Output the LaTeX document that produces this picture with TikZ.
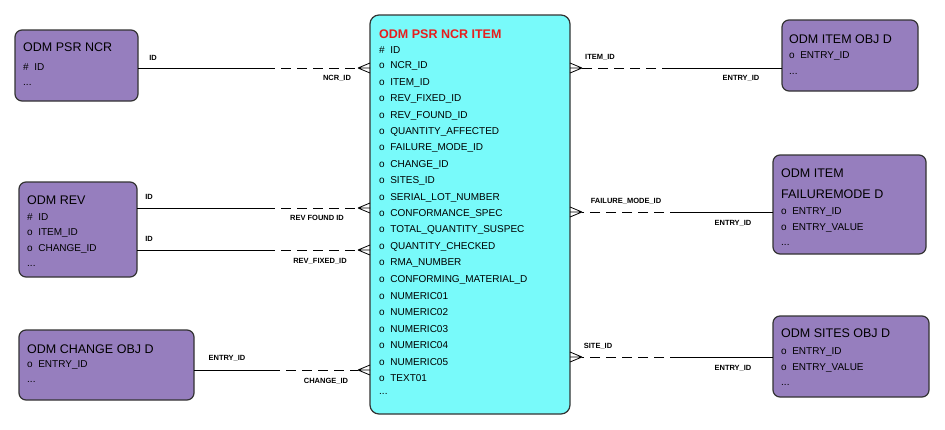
\documentclass[tikz,border=0pt]{standalone}
\usepackage{fontspec}
\setmainfont{Liberation Sans}
\begin{document}
\begin{tikzpicture}[x=1pt,y=-1pt,
  ent/.style={draw=black!80,line width=1.2pt,rounded corners=7pt,fill={rgb,255:red,150;green,126;blue,190}},
  ctr/.style={draw=black!80,line width=1.2pt,rounded corners=9pt,fill={rgb,255:red,120;green,250;blue,250}},
  ttl/.style={font=\fontsize{12.5}{14}\selectfont,anchor=west,inner sep=0},
  row/.style={font=\fontsize{10}{12}\selectfont,anchor=west,inner sep=0},
  lab/.style={font=\fontsize{7.5}{9}\selectfont\bfseries,inner sep=0},
  con/.style={line width=0.8pt},
  dsh/.style={line width=0.8pt,dash pattern=on 10pt off 6pt}]
\useasboundingbox (0,0) rectangle (945,429);
% boxes
\draw[ent] (15,30) rectangle (138,101) coordinate (ncr);
\draw[ent] (19,182) rectangle (137,277) coordinate (rev);
\draw[ent] (19,330) rectangle (194,400) coordinate (chg);
\draw[ctr] (370,15) rectangle (570,414) coordinate (itm);
\draw[ent] (782,20) rectangle (918,91) coordinate (iod);
\draw[ent] (773,155) rectangle (926,254) coordinate (fmd);
\draw[ent] (773,316) rectangle (929,397) coordinate (sod);
% texts
\node[ttl] (t1) at (23,47) {ODM PSR NCR};
\node[row] (t1a) at (23,67) {\#\ \ ID};
\node[row] (t1b) at (23,85) {...};
\node[ttl] (t2) at (27,200) {ODM REV};
\node[row] (t2a) at (27,217) {\#\ \ ID};
\node[row] (t2b) at (27,233) {o\ \ ITEM\_ID};
\node[row] (t2c) at (27,249) {o\ \ CHANGE\_ID};
\node[row] (t2d) at (27,266) {...};
\node[ttl] (t3) at (27,349) {ODM CHANGE OBJ D};
\node[row] (t3a) at (27,365) {o\ \ ENTRY\_ID};
\node[row] (t3b) at (27,382) {...};
\node[ttl] (t4) at (789,39) {ODM ITEM OBJ D};
\node[row] (t4a) at (789,56) {o\ \ ENTRY\_ID};
\node[row] (t4b) at (789,74) {...};
\node[ttl] (t5) at (781,173) {ODM ITEM};
\node[ttl] (t5x) at (781,194) {FAILUREMODE D};
\node[row] (t5a) at (781,212) {o\ \ ENTRY\_ID};
\node[row] (t5b) at (781,228) {o\ \ ENTRY\_VALUE};
\node[row] (t5c) at (781,245) {...};
\node[ttl] (t6) at (781,333) {ODM SITES OBJ D};
\node[row] (t6a) at (781,352) {o\ \ ENTRY\_ID};
\node[row] (t6b) at (781,368) {o\ \ ENTRY\_VALUE};
\node[row] (t6c) at (781,385) {...};
\node[ttl,text={rgb,255:red,230;green,30;blue,30},font=\fontsize{12.5}{14}\selectfont\bfseries] (tc) at (379,34) {ODM PSR NCR ITEM};
\foreach \t [count=\i from 0] in {{\#\ \ ID},{o\ \ NCR\_ID},{o\ \ ITEM\_ID},{o\ \ REV\_FIXED\_ID},{o\ \ REV\_FOUND\_ID},{o\ \ QUANTITY\_AFFECTED},{o\ \ FAILURE\_MODE\_ID},{o\ \ CHANGE\_ID},{o\ \ SITES\_ID},{o\ \ SERIAL\_LOT\_NUMBER},{o\ \ CONFORMANCE\_SPEC},{o\ \ TOTAL\_QUANTITY\_SUSPEC},{o\ \ QUANTITY\_CHECKED},{o\ \ RMA\_NUMBER},{o\ \ CONFORMING\_MATERIAL\_D},{o\ \ NUMERIC01},{o\ \ NUMERIC02},{o\ \ NUMERIC03},{o\ \ NUMERIC04},{o\ \ NUMERIC05},{o\ \ TEXT01}}
  \node[row] (r\i) at (379,{50+16.4*\i}) {\t};
\node[row] (rend) at (379,{50+16.4*21}) {...};
% relations: left side
\foreach \y/\xa/\xm in {68/138/265, 208/137/265, 250/137/265, 370/194/270}{
  \draw[con] (\xa,\y) -- (\xm,\y);
  \draw[dsh] (\xm,\y) -- (358,\y);
  \draw[con] (358,\y) -- (370,\y-5) (358,\y) -- (370,\y) (358,\y) -- (370,\y+5);
}
% right side
\foreach \y/\xa/\xm in {68/782/672, 212/773/680, 357/773/680}{
  \draw[con] (\xa,\y) -- (\xm,\y);
  \draw[dsh] (\xm,\y) -- (582,\y);
  \draw[con] (582,\y) -- (570,\y-5) (582,\y) -- (570,\y) (582,\y) -- (570,\y+5);
}
% labels
\node[lab] (l1) at (153,58) {ID};
\node[lab] (l2) at (337,78) {NCR\_ID};
\node[lab] (l3) at (149,197) {ID};
\node[lab] (l4) at (317,218) {REV FOUND ID};
\node[lab] (l5) at (149,239) {ID};
\node[lab] (l6) at (320,261) {REV\_FIXED\_ID};
\node[lab] (l7) at (227,358) {ENTRY\_ID};
\node[lab] (l8) at (326,381) {CHANGE\_ID};
\node[lab] (l9) at (600,57) {ITEM\_ID};
\node[lab] (l10) at (741,78) {ENTRY\_ID};
\node[lab] (l11) at (626,201) {FAILURE\_MODE\_ID};
\node[lab] (l12) at (733,223) {ENTRY\_ID};
\node[lab] (l13) at (598,346) {SITE\_ID};
\node[lab] (l14) at (733,368) {ENTRY\_ID};
\end{tikzpicture}
\end{document}
